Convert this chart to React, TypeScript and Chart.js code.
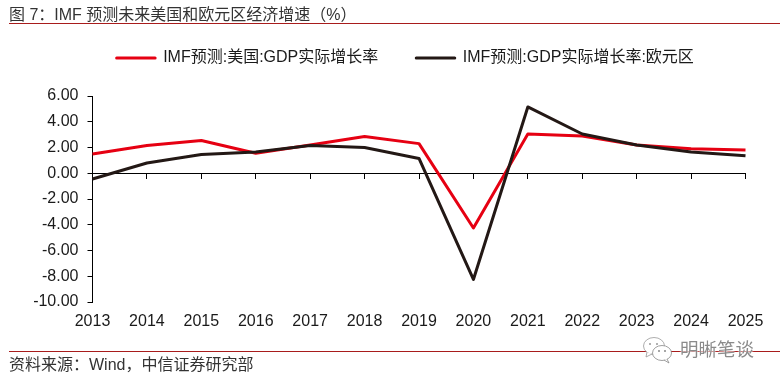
import React, { useEffect, useRef } from "react";
import { Chart, registerables } from "chart.js";

Chart.register(...registerables);

const years = ["2013","2014","2015","2016","2017","2018","2019","2020","2021","2022","2023","2024","2025"];
const usGrowth = [1.5, 2.15, 2.55, 1.55, 2.2, 2.85, 2.3, -4.25, 3.05, 2.9, 2.2, 1.9, 1.8];
const euroGrowth = [-0.45, 0.8, 1.45, 1.65, 2.15, 2.0, 1.15, -8.25, 5.15, 3.05, 2.2, 1.65, 1.35];
const usLabel = "IMF预测:美国:GDP实际增长率";
const euroLabel = "IMF预测:GDP实际增长率:欧元区";
const titleText = "图 7：IMF 预测未来美国和欧元区经济增速（%）";
const sourceText = "资料来源：Wind，中信证券研究部";
const watermarkText = "明晰笔谈";

const FONT = "'Liberation Sans','Noto Sans CJK SC',sans-serif";
const RED = "#e60012";
const DARK = "#231815";
const RULE = "#a81c1c";
const TEXT = "#1a1a1a";

const legendShift = {
  id: "legendShift",
  afterLayout(chart: any) {
    const l = chart.legend;
    if (!l) return;
    l.top += -20;
    l.bottom += -20;
    l.left += 32.5;
    l.right += 32.5;
  },
};

export default function App() {
  const ref = useRef<HTMLCanvasElement>(null);
  useEffect(() => {
    const chart = new Chart(ref.current!, {
      type: "line",
      plugins: [legendShift],
      data: {
        labels: years,
        datasets: [
          { label: usLabel, data: usGrowth, borderColor: RED, backgroundColor: RED, borderWidth: 3, pointRadius: 0, tension: 0, order: 1, borderJoinStyle: "round" },
          { label: euroLabel, data: euroGrowth, borderColor: DARK, backgroundColor: DARK, borderWidth: 3, pointRadius: 0, tension: 0, order: 0, borderJoinStyle: "round" },
        ],
      },
      options: {
        animation: false,
        responsive: false,
        layout: { padding: { top: 32, right: 34.5, left: 0, bottom: 0 } },
        plugins: {
          tooltip: { enabled: false },
          legend: {
            position: "top",
            labels: {
              boxWidth: 38.5,
              boxHeight: 0,
              padding: 38,
              color: TEXT,
              font: { family: FONT, size: 16 },
              sort: (a: any, b: any) => a.datasetIndex - b.datasetIndex,
            },
          },
        },
        scales: {
          x: {
            type: "category",
            position: "bottom",
            offset: false,
            afterFit: (s: any) => { s.height = 82; },
            border: { display: false },
            grid: { display: false },
            ticks: { autoSkip: false, maxRotation: 0, color: TEXT, padding: 1.5, font: { family: FONT, size: 16 } },
          },
          x2: {
            type: "category",
            position: { y: 0 },
            offset: false,
            border: { display: true, color: "#000", width: 1 },
            grid: { display: true, drawOnChartArea: false, drawTicks: true, tickLength: 5, color: "#000" },
            ticks: { display: false, autoSkip: false },
          },
          y: {
            min: -10,
            max: 6,
            afterFit: (s: any) => { s.width = 92.5; },
            border: { display: true, color: "#000", width: 1 },
            grid: { display: true, drawOnChartArea: false, drawTicks: true, tickLength: 5, color: "#000" },
            ticks: { stepSize: 2, padding: 9, color: TEXT, font: { family: FONT, size: 16 }, callback: (v: any) => Number(v).toFixed(2) },
          },
        } as any,
      },
    } as any);
    return () => chart.destroy();
  }, []);

  const abs = (o: React.CSSProperties): React.CSSProperties => ({ position: "absolute", fontFamily: FONT, whiteSpace: "nowrap", ...o });

  return (
    <div style={{ position: "fixed", left: 0, top: 0, width: 780, height: 384, background: "#fff", overflow: "hidden" }}>
      <style>{"html,body{margin:0;padding:0;background:#fff}"}</style>
      <canvas ref={ref} width={780} height={384} style={{ position: "absolute", left: 0, top: 0, width: 780, height: 384 }} />
      <div style={abs({ left: 9, top: 5, fontSize: 16, lineHeight: "20px", color: "#333" })}>{titleText}</div>
      <div style={abs({ left: 9, right: 0, top: 23, height: 1, background: RULE })} />
      <div style={abs({ left: 9, right: 0, top: 351, height: 1, background: RULE })} />
      <div style={abs({ left: 9, top: 355, fontSize: 16, lineHeight: "20px", color: "#333" })}>{sourceText}</div>
      <svg width={32} height={28} viewBox="0 0 32 28" style={{ position: "absolute", left: 642, top: 336 }}>
        <ellipse cx={12} cy={10} rx={10.5} ry={8.5} fill="#fff" stroke="#999" strokeWidth={0.8} />
        <path d="M5 16 L4 21 L10 18" fill="#fff" stroke="#999" strokeWidth={0.8} />
        <ellipse cx={20} cy={17} rx={9.5} ry={7.5} fill="#fff" stroke="#888" strokeWidth={0.8} />
        <path d="M25 23 L27 27 L22 24" fill="#fff" stroke="#888" strokeWidth={0.8} />
        <circle cx={8} cy={8} r={1} fill="#999" /><circle cx={15} cy={8} r={1} fill="#999" />
        <circle cx={17} cy={15} r={1} fill="#888" /><circle cx={23} cy={15} r={1} fill="#888" />
      </svg>
      <div style={abs({ left: 680, top: 338, fontSize: 18.5, lineHeight: "24px", color: "#8a8a8a", textShadow: "0 0 2px #fff,0 0 2px #fff" })}>{watermarkText}</div>
    </div>
  );
}
